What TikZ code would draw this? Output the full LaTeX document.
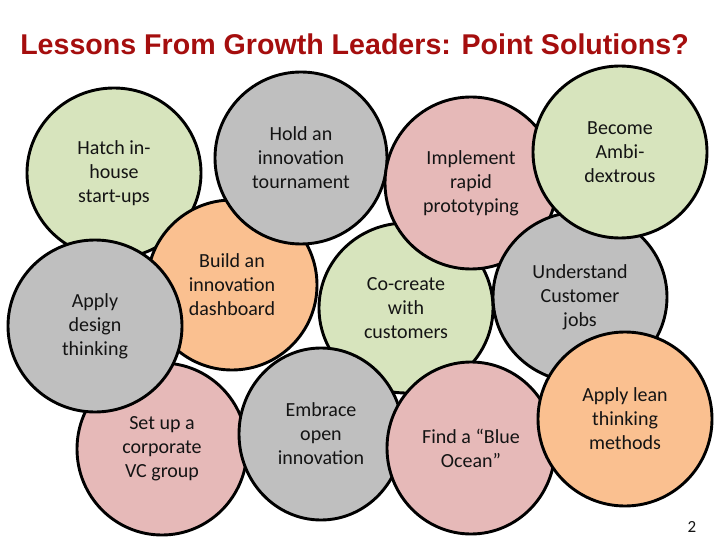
\documentclass[tikz,border=0pt]{standalone}
\usepackage{fontspec}
\setmainfont{Carlito}
\newfontfamily\titlefont{Liberation Sans}
\usetikzlibrary{shapes.geometric}
\definecolor{bgreen}{HTML}{D7E4BD}
\definecolor{bgray}{HTML}{BFBFBF}
\definecolor{borange}{HTML}{FAC090}
\definecolor{bpink}{HTML}{E6B9B8}
\definecolor{titlered}{HTML}{A50E0E}
\definecolor{txt}{HTML}{141414}
\begin{document}
\begin{tikzpicture}[x=1pt,y=-1pt,
  bub/.style={ellipse, draw=black, line width=2.9pt, inner sep=0pt, align=center,
    text=txt, font=\fontsize{20}{24}\selectfont},
  green/.style={bub, fill=bgreen},
  gray/.style={bub, fill=bgray},
  orange/.style={bub, fill=borange},
  pink/.style={bub, fill=bpink}]
\useasboundingbox (0,0) rectangle (720,540);
\node[anchor=base, text=titlered, inner sep=0pt,
  font=\titlefont\bfseries\fontsize{28.6}{30}\selectfont] (title) at (354.5,55)
  {Lessons From Growth Leaders: Point Solutions?};
% bubbles, bottom to top
\node[green,  minimum width=174pt, minimum height=170pt] (hatch) at (114,173) {Hatch in-\\house\\start-ups};
\node[pink,   minimum width=170pt, minimum height=172pt] (setup) at (162,449) {Set up a\\corporate\\VC group};
\node[orange, minimum width=170pt, minimum height=170pt] (build) at (232,285) {Build an\\innovation\\dashboard};
\node[gray,   minimum width=174pt, minimum height=172pt] (design) at (95,326) {Apply\\design\\thinking};
\node[gray,   minimum width=172pt, minimum height=172pt] (hold) at (301,158) {Hold an\\innovation\\tournament};
\node[green,  minimum width=174pt, minimum height=170pt] (cocreate) at (406,308) {Co-create\\with\\customers};
\node[pink,   minimum width=172pt, minimum height=172pt] (implement) at (471,183) {Implement\\rapid\\prototyping};
\node[gray,   minimum width=174pt, minimum height=170pt] (understand) at (580,297) {Understand\\Customer\\jobs};
\node[green,  minimum width=174pt, minimum height=172pt] (become) at (620,152) {Become\\Ambi-\\dextrous};
\node[gray,   minimum width=164pt, minimum height=172pt] (embrace) at (321,434) {Embrace\\open\\innovation};
\node[pink,   minimum width=168pt, minimum height=172pt] (blue) at (471,448) {Find a “Blue\\Ocean”};
\node[orange, minimum width=174pt, minimum height=174pt] (lean) at (625,419) {Apply lean\\thinking\\methods};
\node[text=txt, inner sep=0pt, font=\fontsize{17}{20}\selectfont] (pagenum) at (692,527) {2};
\end{tikzpicture}
\end{document}
